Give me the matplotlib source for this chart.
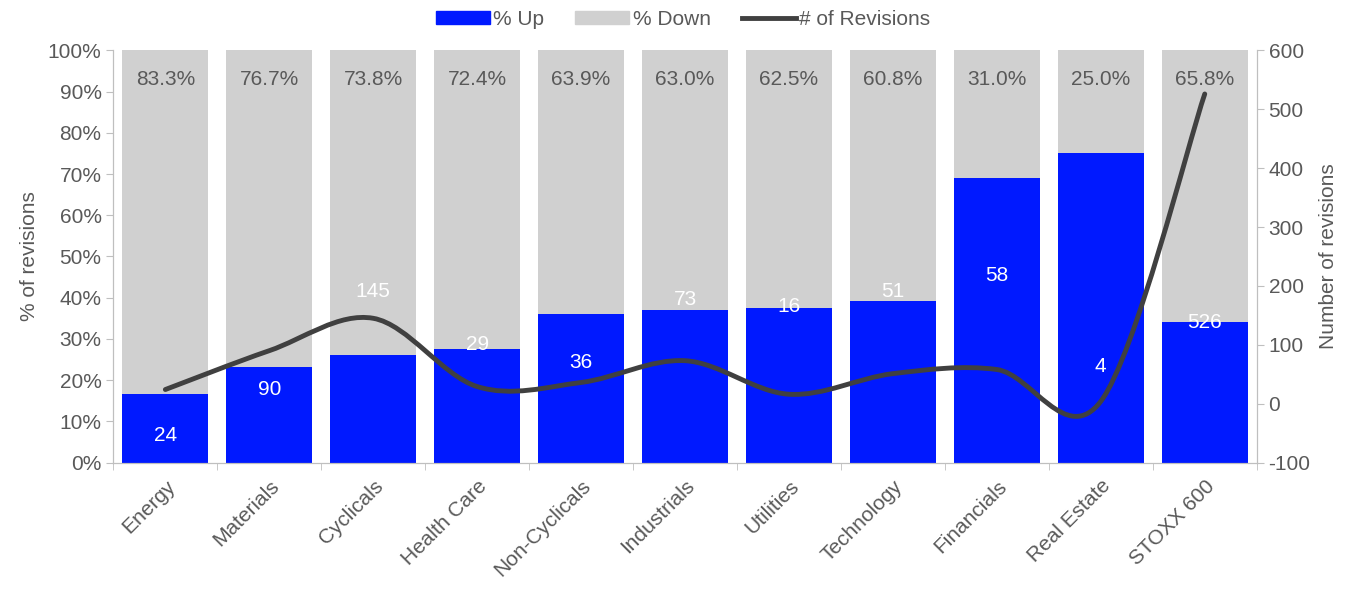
import numpy as np
import matplotlib.pyplot as plt
from matplotlib.path import Path
from matplotlib.patches import PathPatch, Patch
from matplotlib.lines import Line2D
from matplotlib.ticker import FuncFormatter, MultipleLocator, FixedLocator

plt.rcParams['font.family'] = ['Liberation Sans', 'DejaVu Sans']
plt.rcParams['axes.unicode_minus'] = False

sectors = ['Energy', 'Materials', 'Cyclicals', 'Health Care', 'Non-Cyclicals',
           'Industrials', 'Utilities', 'Technology', 'Financials', 'Real Estate',
           'STOXX 600']
pct_down = [83.3, 76.7, 73.8, 72.4, 63.9, 63.0, 62.5, 60.8, 31.0, 25.0, 65.8]
pct_up = [100 - d for d in pct_down]
revisions = [24, 90, 145, 29, 36, 73, 16, 51, 58, 4, 526]
# where the revision count labels sit (left axis units, as in the source)
rev_label_y = [6.5, 17.7, 41.4, 28.6, 24.2, 39.5, 37.8, 41.6, 45.5, 23.2, 33.9]

grey_txt = '#595959'
spine_c = '#BFBFBF'
blue = '#0019FF'
grey = '#D0D0D0'
line_c = '#404040'
fs = 15

fig, ax = plt.subplots(figsize=(13.66, 5.93), dpi=100)
fig.subplots_adjust(left=0.083, right=0.92, top=0.915, bottom=0.22)
ax2 = ax.twinx()

x = np.arange(len(sectors))
ax.bar(x, pct_up, width=0.83, color=blue, zorder=2)
ax.bar(x, pct_down, bottom=pct_up, width=0.83, color=grey, zorder=2)

for i in x:
    ax.text(i, 93, f'{pct_down[i]:.1f}%', ha='center', va='center',
            fontsize=fs, color=grey_txt, zorder=3)
    ax.text(i, rev_label_y[i], str(revisions[i]), ha='center', va='center',
            fontsize=fs, color='white', zorder=3)

# smoothed line (Excel style), bezier through each point
pts = np.column_stack([x, revisions]).astype(float)
verts = [tuple(pts[0])]
codes = [Path.MOVETO]
n = len(pts)
for i in range(n - 1):
    p0 = pts[i - 1] if i > 0 else pts[i]
    p1 = pts[i]
    p2 = pts[i + 1]
    p3 = pts[i + 2] if i + 2 < n else pts[i + 1]
    c1 = p1 + (p2 - p0) / 6
    c2 = p2 - (p3 - p1) / 6
    verts += [tuple(c1), tuple(c2), tuple(p2)]
    codes += [Path.CURVE4] * 3
ax2.add_patch(PathPatch(Path(verts, codes), fill=False, edgecolor=line_c,
                        lw=3.5, capstyle='round', zorder=4))
ax2.set_zorder(ax.get_zorder() + 1)
ax2.patch.set_visible(False)

ax.set_xlim(-0.5, len(sectors) - 0.5)
ax.set_ylim(0, 100)
ax2.set_ylim(-100, 600)
ax.yaxis.set_major_locator(MultipleLocator(10))
ax.yaxis.set_major_formatter(FuncFormatter(lambda v, p: f'{v:.0f}%'))
ax2.yaxis.set_major_locator(MultipleLocator(100))

ax.set_xticks(x)
ax.set_xticklabels(sectors, rotation=45, ha='right', rotation_mode='anchor',
                   fontsize=fs, color=grey_txt)
ax.tick_params(axis='x', which='major', length=0, pad=10)
ax.xaxis.set_minor_locator(FixedLocator(np.arange(-0.5, len(sectors), 1)))
ax.tick_params(axis='x', which='minor', length=5, color=spine_c)
ax.tick_params(axis='y', labelsize=fs, labelcolor=grey_txt, color=spine_c, length=5)
ax2.tick_params(axis='y', labelsize=fs, labelcolor=grey_txt, color=spine_c, length=5)

for a in (ax, ax2):
    a.spines['top'].set_visible(False)
    for s in ('left', 'right', 'bottom'):
        a.spines[s].set_color(spine_c)
ax.set_ylabel('% of revisions', fontsize=fs, color=grey_txt, labelpad=6)
ax2.set_ylabel('Number of revisions', fontsize=fs, color=grey_txt, labelpad=6)

handles = [Patch(color=blue, label='% Up'), Patch(color=grey, label='% Down'),
           Line2D([], [], color=line_c, lw=3.5, label='# of Revisions')]
fig.legend(handles=handles, loc='upper center', bbox_to_anchor=(0.5, 1.015),
           ncol=3, frameon=False, fontsize=fs, labelcolor=grey_txt,
           handlelength=2.6, handleheight=0.55, columnspacing=1.5, handletextpad=0.15)

plt.savefig('out.png')
